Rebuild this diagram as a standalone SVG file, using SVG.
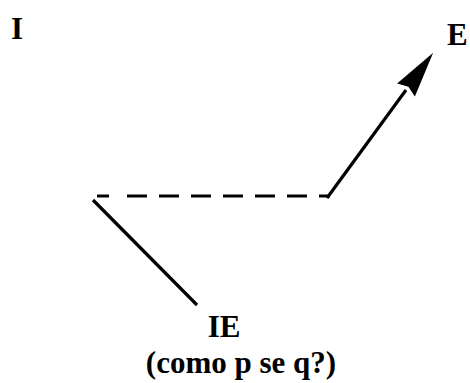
<svg xmlns="http://www.w3.org/2000/svg" width="470" height="383" viewBox="0 0 470 383">
<style>
.lbl{font-family:"Liberation Serif","Times New Roman",serif;font-weight:bold;fill:#000;font-size:31px}
.ln{stroke:#000;stroke-width:3.2;fill:none;stroke-linecap:butt}
</style>
<defs>
<marker id="ah" markerUnits="userSpaceOnUse" viewBox="-2 -14 52 28" markerWidth="52" markerHeight="28" refX="0" refY="0" orient="auto">
<path d="M0,-11 L46,0 L0,11 L4,0 z" fill="#000"/>
</marker>
</defs>
<rect width="470" height="383" fill="#fff"/>
<g id="connectors">
<line class="ln" x1="97" y1="196" x2="330" y2="196" stroke-dasharray="12 18 20 12 20 12 20 12 20 12 20 12 20 12 20 12 20"/>
<line class="ln" x1="93" y1="200" x2="197" y2="305" stroke-width="3.5"/>
<line class="ln" x1="327" y1="198" x2="406" y2="90" marker-end="url(#ah)"/>
</g>
<g id="node-I"><text class="lbl" x="11" y="39">I</text></g>
<g id="node-E"><text class="lbl" x="447" y="45">E</text></g>
<g id="node-IE">
<text class="lbl" x="224" y="337" text-anchor="middle">IE</text>
<text class="lbl" x="241" y="373" text-anchor="middle">(como p se q?)</text>
</g>
</svg>
